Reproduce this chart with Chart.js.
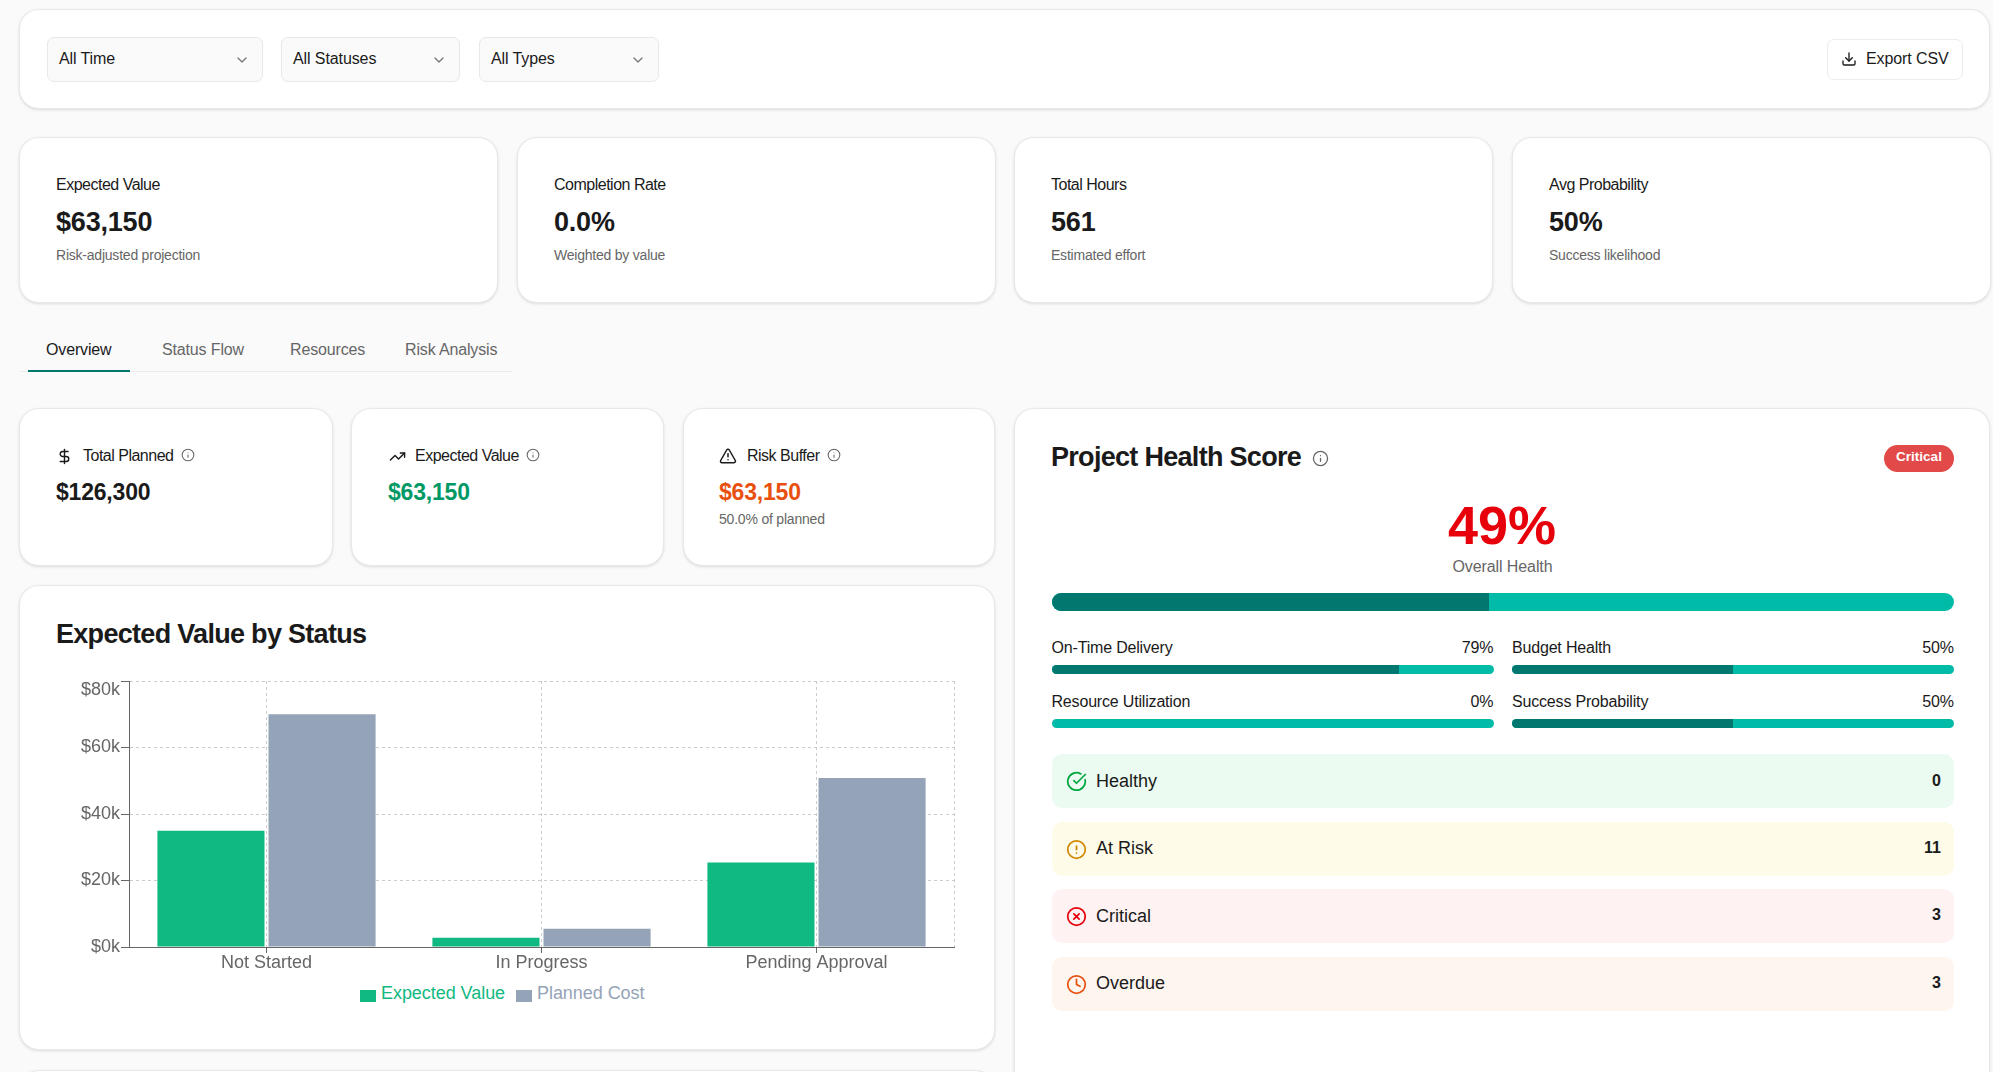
<!DOCTYPE html>
<html>
<head>
<meta charset="utf-8">
<title>Project Dashboard</title>
<script src="https://cdn.jsdelivr.net/npm/chart.js@4"></script>
<style>
html, body { margin: 0; padding: 0; width: 1993px; height: 1072px; overflow: hidden; background: #fafafa; }
body { font-family: "Liberation Sans", Arial, sans-serif; color: #1a1a1a; position: relative; }
.box { position: absolute; box-sizing: border-box; }
.card { background: #fff; border: 1.5px solid #e8e8e8; border-radius: 20px; box-shadow: 0 1px 3px rgba(0,0,0,.12); }
.select { background: #fafafa; border: 1.5px solid #e8e8e8; border-radius: 7px; }
.t { position: absolute; white-space: nowrap; line-height: 24px; }
.ico { position: absolute; fill: none; stroke: currentColor; stroke-linecap: round; stroke-linejoin: round; }
.swatch { position: absolute; width: 16px; height: 12px; }
canvas { position: absolute; }
</style>
</head>
<body>
<canvas id="statusChart" width="905" height="318" style="left:57px;top:662px;width:905px;height:318px"></canvas>
<script>
const categories = ['Not Started', 'In Progress', 'Pending Approval'];
const expectedValues = [35000, 2750, 25400];
const plannedCosts = [70000, 5500, 50800];
const yTickValues = [0, 20000, 40000, 60000, 80000];

const filterLabels = ['All Time', 'All Statuses', 'All Types'];
const kpiLabels = ['Expected Value', 'Completion Rate', 'Total Hours', 'Avg Probability'];
const kpiValues = ['$63,150', '0.0%', '561', '50%'];
const kpiNotes = ['Risk-adjusted projection', 'Weighted by value', 'Estimated effort', 'Success likelihood'];
const tabLabels = ['Overview', 'Status Flow', 'Resources', 'Risk Analysis'];
const healthLabels = ['On-Time Delivery', 'Budget Health', 'Resource Utilization', 'Success Probability'];
const healthValues = [79, 50, 0, 50];
const rowLabels = ['Healthy', 'At Risk', 'Critical', 'Overdue'];
const rowCounts = [0, 11, 3, 3];

const ICONS = {
    chevron: '<path d="m6 9 6 6 6-6"/>',
    download: '<path d="M21 15v4a2 2 0 0 1-2 2H5a2 2 0 0 1-2-2v-4"/><polyline points="7 10 12 15 17 10"/><line x1="12" y1="15" x2="12" y2="3"/>',
    info: '<circle cx="12" cy="12" r="10"/><path d="M12 16v-4"/><path d="M12 8h.01"/>',
    dollar: '<line x1="12" y1="2" x2="12" y2="22"/><path d="M17 5H9.5a3.5 3.5 0 0 0 0 7h5a3.5 3.5 0 0 1 0 7H6"/>',
    trend: '<polyline points="22 7 13.5 15.5 8.5 10.5 2 17"/><polyline points="16 7 22 7 22 13"/>',
    triangle: '<path d="m21.73 18-8-14a2 2 0 0 0-3.48 0l-8 14A2 2 0 0 0 4 21h16a2 2 0 0 0 1.73-3"/><path d="M12 9v4"/><path d="M12 17h.01"/>',
    check: '<path d="M21.801 10A10 10 0 1 1 17 3.335"/><path d="m9 11 3 3L22 4"/>',
    alert: '<circle cx="12" cy="12" r="10"/><line x1="12" y1="8" x2="12" y2="12"/><line x1="12" y1="16" x2="12.01" y2="16"/>',
    cross: '<circle cx="12" cy="12" r="10"/><path d="m15 9-6 6"/><path d="m9 9 6 6"/>',
    clock: '<circle cx="12" cy="12" r="10"/><polyline points="12 6 12 12 16 14"/>'
};

function box(cls, x, y, w, h, css) {
    const el = document.createElement('div');
    el.className = 'box ' + cls;
    el.style.cssText = `left:${x}px;top:${y}px;width:${w}px;height:${h}px;${css || ''}`;
    document.body.insertBefore(el, document.getElementById('statusChart'));
    return el;
}

// x is the left edge unless align says otherwise, cy is the text centre
function text(str, x, cy, size, color, weight, align, spacing) {
    const el = document.createElement('div');
    el.className = 't';
    el.textContent = str;
    let css = `top:${cy - 12}px;font-size:${size}px;color:${color};font-weight:${weight || 400};letter-spacing:${spacing || 0}px;`;
    if (align === 'right') css += `right:${1993 - x}px;`;
    else if (align === 'center') css += `left:${x}px;transform:translateX(-50%);`;
    else css += `left:${x}px;`;
    el.style.cssText = css;
    document.body.appendChild(el);
}

function icon(name, cx, cy, size, color, sw) {
    const html = `<svg class="ico" viewBox="0 0 24 24" width="${size}" height="${size}" stroke-width="${sw || 2}" style="left:${cx - size / 2}px;top:${cy - size / 2}px;color:${color}">${ICONS[name]}</svg>`;
    document.body.insertAdjacentHTML('beforeend', html);
}

function bar(x, y, w, h, pct) {
    const el = box('', x, y, w, h, `background:#00bba7;border-radius:${h / 2}px;overflow:hidden`);
    el.innerHTML = `<div style="width:${pct}%;height:100%;background:#00786f"></div>`;
}

// filter bar
box('card', 19, 9, 1971, 100);
const filterX = [47, 281, 479];
const filterW = [216, 179, 180];
const filterTextX = [59, 293, 491];
filterLabels.forEach((label, i) => {
    box('select', filterX[i], 37, filterW[i], 45);
    text(label, filterTextX[i], 59, 16, '#1a1a1a', 400, null, -0.1);
    icon('chevron', filterX[i] + filterW[i] - 21, 60, 16, '#777');
});
box('', 1827, 39, 136, 41, 'background:#fff;border:1.5px solid #ececec;border-radius:7px');
icon('download', 1849, 59, 16, '#1a1a1a');
text('Export CSV', 1866, 59, 16, '#1a1a1a', 400, null, -0.1);

// kpi cards
const kpiX = [19, 517, 1014, 1512];
kpiLabels.forEach((label, i) => {
    box('card', kpiX[i], 137, 479, 166);
    text(label, kpiX[i] + 37, 185, 16, '#1a1a1a', 400, null, -0.5);
    text(kpiValues[i], kpiX[i] + 37, 222, 27, '#1a1a1a', 700, null, -0.2);
    text(kpiNotes[i], kpiX[i] + 37, 255, 14, '#666', 400, null, -0.22);
});

// tabs
box('', 20, 371, 492, 1, 'background:#ececec');
box('', 28, 370, 102, 2, 'background:#00786f');
const tabX = [46, 162, 290, 405];
tabLabels.forEach((label, i) => text(label, tabX[i], 349.5, 16, i === 0 ? '#1a1a1a' : '#666', 400, null, -0.15));

// metric cards
box('card', 19, 408, 314, 158);
box('card', 351, 408, 313, 158);
box('card', 683, 408, 312, 158);
icon('dollar', 64, 456, 17, '#1a1a1a');
text('Total Planned', 83, 456, 16, '#1a1a1a', 400, null, -0.5);
icon('info', 188, 455, 14, '#666', 1.8);
text('$126,300', 56, 492, 23, '#1a1a1a', 700, null, -0.2);
icon('trend', 397, 456, 17, '#1a1a1a');
text('Expected Value', 415, 456, 16, '#1a1a1a', 400, null, -0.5);
icon('info', 533, 455, 14, '#666', 1.8);
text('$63,150', 388, 492, 23, '#009966', 700, null, -0.2);
icon('triangle', 728, 456, 18, '#1a1a1a');
text('Risk Buffer', 747, 456, 16, '#1a1a1a', 400, null, -0.5);
icon('info', 834, 455, 14, '#666', 1.8);
text('$63,150', 719, 492, 23, '#e8500f', 700, null, -0.2);
text('50.0% of planned', 719, 519, 14, '#666', 400, null, -0.2);

// chart card
box('card', 19, 585, 976, 465);
text('Expected Value by Status', 56, 634, 27, '#1a1a1a', 700, null, -0.7);
box('card', 19, 1070, 976, 40);

// health card
box('card', 1014, 408, 976, 700);
text('Project Health Score', 1051, 457, 27, '#1a1a1a', 700, null, -0.7);
icon('info', 1320, 458, 17, '#666', 1.8);
box('', 1884, 445, 70, 27, 'background:#e24a4a;border-radius:14px');
text('Critical', 1919, 457, 13.5, '#fff', 700, 'center');
text('49%', 1502, 525, 54, '#e7000b', 700, 'center');
text('Overall Health', 1502.5, 567, 16, '#666', 400, 'center', -0.1);
bar(1051.5, 593, 902.5, 18, 48.5);

const healthX = [1051.5, 1512, 1051.5, 1512];
const healthY = [648, 648, 702, 702];
healthLabels.forEach((label, i) => {
    text(label, healthX[i], healthY[i], 16, '#1a1a1a', 400, null, -0.18);
    text(healthValues[i] + '%', healthX[i] + 442, healthY[i], 16, '#1a1a1a', 400, 'right', -0.1);
    bar(healthX[i], healthY[i] + 17, 442, 9, i === 0 ? 78.7 : healthValues[i]);
});

const rowY = [754, 822, 889, 957];
const rowBg = ['#ebfbf1', '#fefbe8', '#fef2f2', '#fef5ef'];
const rowIcon = ['check', 'alert', 'cross', 'clock'];
const rowColor = ['#00a63e', '#d08700', '#e7000b', '#e8500f'];
const rowTextDy = [27, 26, 27, 26];
const rowCountDy = [27, 26, 26, 26];
rowLabels.forEach((label, i) => {
    box('', 1051.5, rowY[i], 902.5, 54, `background:${rowBg[i]};border-radius:10px`);
    icon(rowIcon[i], 1076, rowY[i] + 27, 21, rowColor[i]);
    text(label, 1096, rowY[i] + rowTextDy[i], 18, '#1a1a1a');
    text(String(rowCounts[i]), 1941, rowY[i] + rowCountDy[i], 16, '#1a1a1a', 700, 'right');
});

// chart
const seriesColors = ['#10b981', '#94a3b8'];
const axisColor = '#666';
const gridColor = '#cccccc';
const chartFont = { family: '"Liberation Sans", Arial, sans-serif', size: 18 };

const rightEdgeLine = {
    id: 'rightEdgeLine',
    beforeDatasetsDraw(chart) {
        const { ctx, chartArea } = chart;
        ctx.save();
        ctx.strokeStyle = gridColor;
        ctx.setLineDash([3, 3]);
        ctx.beginPath();
        ctx.moveTo(Math.round(chartArea.right) + 0.5, chartArea.top);
        ctx.lineTo(Math.round(chartArea.right) + 0.5, chartArea.bottom);
        ctx.stroke();
        ctx.restore();
    }
};

const chart = new Chart(document.getElementById('statusChart'), {
    type: 'bar',
    data: {
        labels: categories,
        datasets: [
            { label: 'Expected Value', data: expectedValues, backgroundColor: seriesColors[0] },
            { label: 'Planned Cost', data: plannedCosts, backgroundColor: seriesColors[1] }
        ]
    },
    options: {
        responsive: false,
        animation: false,
        categoryPercentage: 0.808,
        barPercentage: 0.964,
        layout: { padding: { top: 1, right: 8, bottom: 0, left: 0 } },
        plugins: {
            tooltip: { enabled: false },
            legend: { display: false }
        },
        scales: {
            x: {
                afterFit: scale => { scale.height = 33; },
                grid: { offset: false, color: gridColor, tickColor: axisColor, tickLength: 6 },
                border: { color: axisColor, dash: [3, 3] },
                ticks: { color: axisColor, font: chartFont, padding: -1, maxRotation: 0 }
            },
            y: {
                min: 0,
                max: yTickValues[yTickValues.length - 1],
                afterFit: scale => { scale.width = 72; },
                afterBuildTicks: scale => { scale.ticks = yTickValues.map(value => ({ value })); },
                grid: { color: gridColor, tickColor: axisColor, tickLength: 8 },
                border: { color: axisColor, dash: [3, 3] },
                ticks: {
                    color: axisColor,
                    font: { ...chartFont, lineHeight: 1 },
                    padding: 1,
                    // top label sits below its tick in the original
                    callback: value => {
                        const label = `$${value / 1000}k`;
                        return value === yTickValues[yTickValues.length - 1] ? ['', label] : label;
                    }
                }
            }
        }
    },
    plugins: [rightEdgeLine]
});

// html legend, the built in one keeps too wide a gap after the swatch
const legendSwatchX = [360, 516];
chart.data.datasets.forEach((ds, i) => {
    box('swatch', legendSwatchX[i], 990, 16, 12, `background:${ds.backgroundColor}`);
    text(ds.label, legendSwatchX[i] + 21, 993, 18, ds.backgroundColor, 400, null, -0.05);
});
</script>
</body>
</html>
